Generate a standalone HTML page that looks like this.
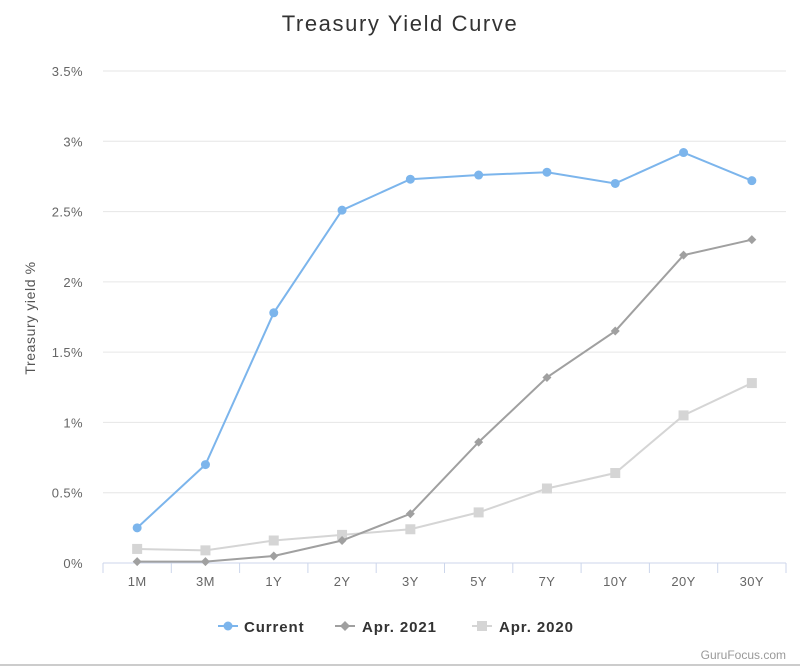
<!DOCTYPE html>
<html><head><meta charset="utf-8"><style>
body{margin:0;background:#fff;font-family:"Liberation Sans",sans-serif}
svg text{font-family:"Liberation Sans",sans-serif}
</style></head><body>
<svg width="800" height="667" xmlns="http://www.w3.org/2000/svg">
<rect width="800" height="667" fill="#fff"/>
<text x="400" y="31" text-anchor="middle" font-size="22" letter-spacing="1.6" fill="#333">Treasury Yield Curve</text>
<text transform="translate(35,318) rotate(-90)" text-anchor="middle" font-size="14" letter-spacing="0.6" fill="#555">Treasury yield %</text>
<g id="grid"></g><g id="xaxis"></g><g id="series"></g>
<g>
<g><line x1="218" y1="626" x2="238" y2="626" stroke="#7cb5ec" stroke-width="2"/><circle cx="228" cy="626" r="4.5" fill="#7cb5ec"/><text x="244" y="632" font-size="15" font-weight="bold" letter-spacing="0.9" fill="#333">Current</text></g>
<g><line x1="335" y1="626" x2="355" y2="626" stroke="#a0a0a0" stroke-width="2"/><path d="M345 621L350 626L345 631L340 626Z" fill="#a0a0a0"/><text x="362" y="632" font-size="15" font-weight="bold" letter-spacing="0.9" fill="#333">Apr. 2021</text></g>
<g><line x1="472" y1="626" x2="492" y2="626" stroke="#d5d5d5" stroke-width="2"/><rect x="477" y="621" width="10" height="10" fill="#d5d5d5"/><text x="499" y="632" font-size="15" font-weight="bold" letter-spacing="0.9" fill="#333">Apr. 2020</text></g>
</g>
<text x="786" y="659" text-anchor="end" font-size="12" fill="#999">GuruFocus.com</text>
<line x1="0" y1="665" x2="800" y2="665" stroke="#ccc" stroke-width="2"/>
</svg>
<script>
const categories=["1M","3M","1Y","2Y","3Y","5Y","7Y","10Y","20Y","30Y"];
const current=[0.25,0.70,1.78,2.51,2.73,2.76,2.78,2.70,2.92,2.72];
const apr2021=[0.01,0.01,0.05,0.16,0.35,0.86,1.32,1.65,2.19,2.30];
const apr2020=[0.10,0.09,0.16,0.20,0.24,0.36,0.53,0.64,1.05,1.28];
const yTicks=[0,0.5,1,1.5,2,2.5,3,3.5];
const yTickLabels=["0%","0.5%","1%","1.5%","2%","2.5%","3%","3.5%"];
const NS="http://www.w3.org/2000/svg";
const L=103,R=786,T=71,B=563,yMax=3.5;
const bw=(R-L)/categories.length;
const xs=i=>L+bw*(i+0.5);
const ys=v=>B-(v/yMax)*(B-T);
function mk(tag,attrs,parent){const e=document.createElementNS(NS,tag);for(const k in attrs)e.setAttribute(k,attrs[k]);parent.appendChild(e);return e;}
const grid=document.getElementById('grid');
yTicks.forEach((t,i)=>{
 const l=mk('line',{x1:L,x2:R,y1:ys(t),y2:ys(t),stroke:i==0?'#ccd6eb':'#e6e6e6'},grid);
 
 
 const tx=mk('text',{x:L-20,y:ys(t)+5,'text-anchor':'end','font-size':13,'letter-spacing':0.4,fill:'#666'},grid);
 tx.textContent=yTickLabels[i];
 
 
});
const xa=document.getElementById('xaxis');
for(let i=0;i<=categories.length;i++){
 const l=mk('line',{x1:L+bw*i,x2:L+bw*i,y1:B,y2:B+10,stroke:'#ccd6eb'},xa);
 
 
}
categories.forEach((c,i)=>{
 const tx=mk('text',{x:xs(i),y:B+23,'text-anchor':'middle','font-size':13,'letter-spacing':0.4,fill:'#666'},xa);
 tx.textContent=c;
 
 
});
const sg=document.getElementById('series');
function drawSeries(vals,color,shape,name){
 const g=mk('g',{},sg);
 
 
 const p=mk('polyline',{points:vals.map((v,i)=>xs(i)+','+ys(v)).join(' '),fill:'none',stroke:color,'stroke-width':2},g);
 
 
 vals.forEach((v,i)=>{
  const x=xs(i),y=ys(v);let m;
  if(shape=='circle')m=mk('circle',{cx:x,cy:y,r:4.5,fill:color},g);
  else if(shape=='diamond')m=mk('path',{d:`M${x} ${y-4.5}L${x+4.5} ${y}L${x} ${y+4.5}L${x-4.5} ${y}Z`,fill:color},g);
  else m=mk('rect',{x:x-5,y:y-5,width:10,height:10,fill:color},g);
  
  
 });
}
drawSeries(apr2020,'#d5d5d5','square','series-apr-2020');
drawSeries(apr2021,'#a0a0a0','diamond','series-apr-2021');
drawSeries(current,'#7cb5ec','circle','series-current');
</script>
</body></html>
